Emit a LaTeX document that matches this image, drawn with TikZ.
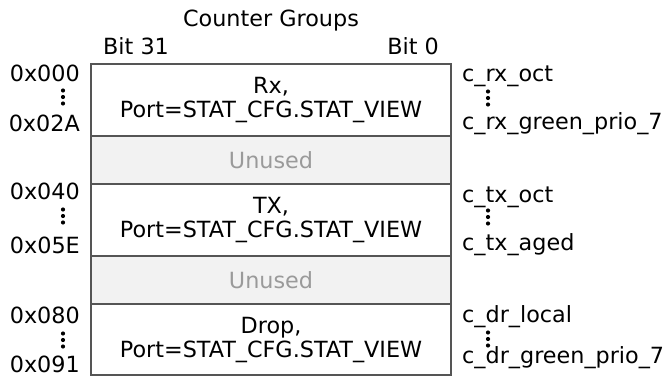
\documentclass[tikz,border=0pt]{standalone}
\usepackage{fontspec}
\setmainfont{DejaVu Sans}
\usetikzlibrary{positioning}
\definecolor{rowline}{HTML}{555555}
\definecolor{unusedfill}{HTML}{F2F2F2}
\definecolor{unusedtext}{HTML}{9A9A9A}

\begin{document}
\begin{tikzpicture}[x=1pt, y=-1pt,
    every node/.style={font=\fontsize{22.3}{24}\selectfont, inner sep=0pt},
    grp/.style={draw=rowline, line width=1.2pt, minimum width=360pt, align=center},
    unused/.style={grp, fill=unusedfill, text=unusedtext, minimum height=48pt}]
    \def\mid{271} % centre of the counter column
    \useasboundingbox (0,0) rectangle (667,377);

    % counter groups, top to bottom
    \node[grp, minimum height=72pt] (rx) at (\mid,100) {Rx,\\Port=STAT\_CFG.STAT\_VIEW};
    \node[unused] (unused1) at (\mid,160) {Unused};
    \node[grp, minimum height=72pt] (tx) at (\mid,220) {TX,\\Port=STAT\_CFG.STAT\_VIEW};
    \node[unused] (unused2) at (\mid,280) {Unused};
    \node[grp, minimum height=71pt] (drop) at (\mid,339.5) {Drop,\\Port=STAT\_CFG.STAT\_VIEW};

    \node[anchor=base] (title) at (\mid,26.5) {Counter Groups};
    \node[anchor=base west] (bit31) at (103,55) {Bit 31};
    \node[anchor=base east] (bit0) at (439,55) {Bit 0};

    % addresses on the left
    \foreach \name/\txt/\yb in {a0/0x000/81.5, a1/0x02A/131.5, a2/0x040/200,
                                a3/0x05E/253, a4/0x080/323, a5/0x091/372}
        \node[anchor=base east] (\name) at (80,\yb) {\txt};

    % counter names on the right
    \foreach \name/\txt/\yb in {c0/c\_rx\_oct/81.5, c1/c\_rx\_green\_prio\_7/129.5,
                                c2/c\_tx\_oct/202, c3/c\_tx\_aged/250,
                                c4/c\_dr\_local/322, c5/c\_dr\_green\_prio\_7/363.5}
        \node[anchor=base west] (\name) at (462,\yb) {\txt};

    % vertical dots between first and last address / name
    \foreach \i/\y in {0/97, 1/216, 2/340}
        \coordinate (ldots\i) at (63,\y);
    \foreach \i/\y in {0/98, 1/217, 2/339}
        \coordinate (rdots\i) at (488,\y);
    \foreach \p in {ldots0, ldots1, ldots2, rdots0, rdots1, rdots2}
        \foreach \d in {-6.5, 0, 6.5}
            \fill ([yshift=-\d pt]\p) circle (2.1pt);
\end{tikzpicture}
\end{document}
